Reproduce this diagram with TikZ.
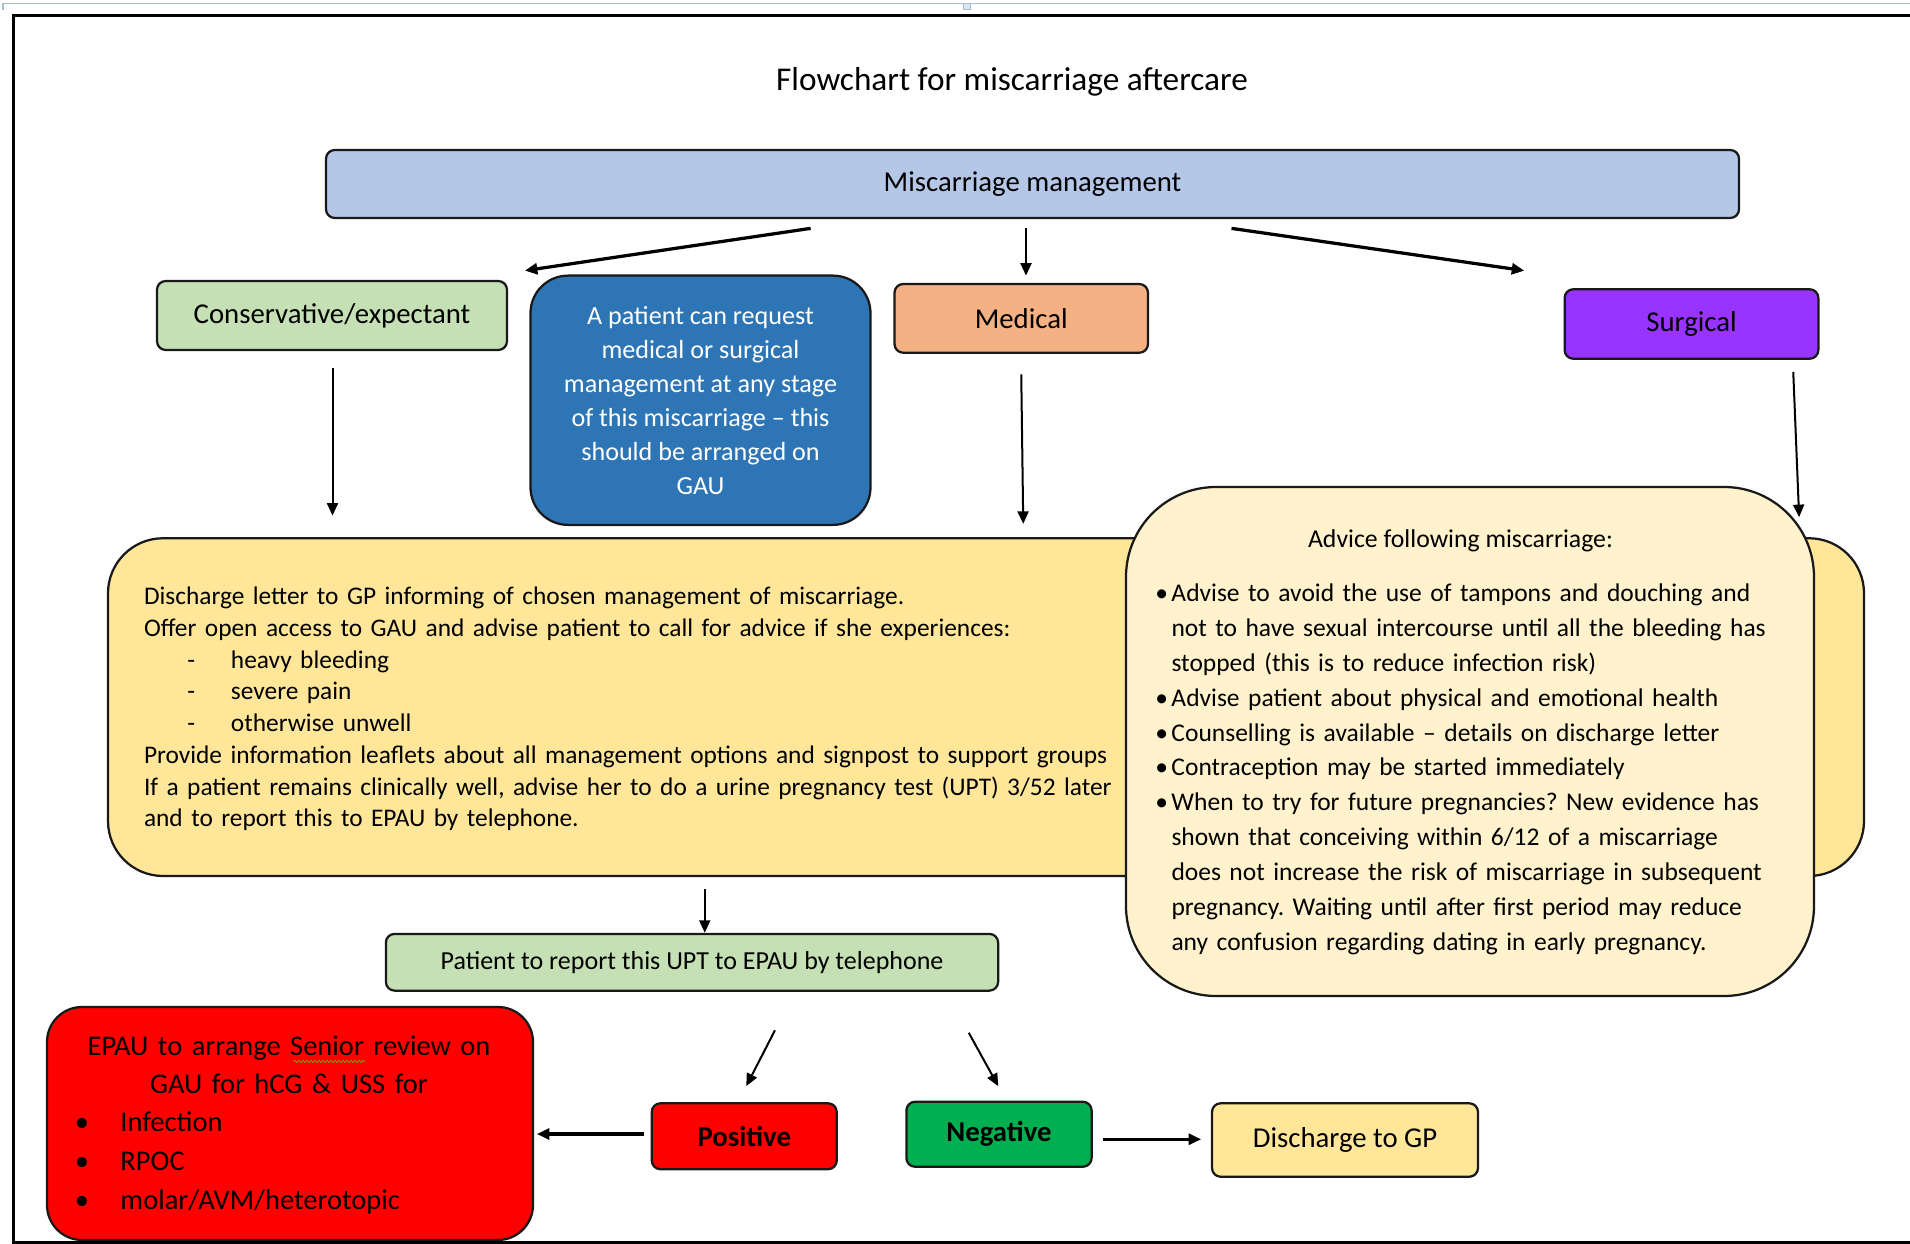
\documentclass[tikz,border=0pt]{standalone}
\usepackage{fontspec}
\setmainfont{Carlito}
\usetikzlibrary{arrows.meta,calc,decorations.pathmorphing}
\frenchspacing

\definecolor{mgmtblue}{HTML}{B4C7E7}
\definecolor{softgreen}{HTML}{C5E0B4}
\definecolor{gaublue}{HTML}{2E75B6}
\definecolor{medorange}{HTML}{F4B183}
\definecolor{surgpurple}{HTML}{9933FF}
\definecolor{letteryellow}{HTML}{FFE699}
\definecolor{advicecream}{HTML}{FFF2CC}
\definecolor{alertred}{HTML}{FF0000}
\definecolor{okgreen}{HTML}{00B050}
\definecolor{rulerblue}{HTML}{A9BDD2}

\newcommand{\advbullet}{\leavevmode\llap{•\hspace{1.4pt}}}
\newcommand{\epaubullet}{\leavevmode\llap{•\hspace{12.6pt}}}
\newcommand{\dashitem}{\hspace*{17.3pt}\makebox[17.5pt][l]{-}}

\begin{document}
\begin{tikzpicture}[x=1pt,y=-1pt,
    box/.style={draw=black!90, line width=0.9pt, rounded corners=3.5pt,
        inner sep=0pt, align=center, font=\fontsize{11.5}{14}\selectfont},
    bodytext/.style={inner sep=0pt, align=left},
    arr/.style={-{Triangle[length=5pt,width=4.4pt]}, line width=0.8pt},
    arrthick/.style={arr, line width=1.3pt}]
\useasboundingbox (0,0) rectangle (764,497.6);

% ruler strip above the page
\draw[rulerblue, line width=0.6pt] (1.2,4.2) -- (1.2,1.4) -- (764,1.4);
\draw[rulerblue, fill=rulerblue!40, line width=0.4pt] (385.2,1.4) rectangle (388.2,3.8);

\node (title) at (404.8,32.8) {\fontsize{13.3}{16}\selectfont Flowchart for miscarriage aftercare};

% top row
\node[box, fill=mgmtblue, minimum width=565.2pt, minimum height=27.2pt] (mm) at (413,73.6) {Miscarriage management};
\node[box, fill=softgreen, minimum width=140pt, minimum height=27.6pt] (cons) at (132.8,126.2) {Conservative/expectant};
\node[box, fill=gaublue, text=white, rounded corners=15pt,
    minimum width=136pt, minimum height=99.7pt,
    font=\fontsize{10.45}{13.6}\selectfont] (gau) at (280.2,160.1)
    {A patient can request\\medical or surgical\\management at any stage\\of this miscarriage – this\\should be arranged on\\GAU};
\node[box, fill=medorange, minimum width=101.4pt, minimum height=27.5pt] (med) at (408.5,127.35) {Medical};
\node[box, fill=surgpurple, minimum width=101.5pt, minimum height=27.8pt] (surg) at (676.6,129.6) {Surgical};

% discharge letter box
\node[box, fill=letteryellow, rounded corners=22pt, minimum width=702.4pt, minimum height=135.1pt] (yl) at (394.4,282.85) {};
\node[bodytext, anchor=base west, text width=440pt, font=\fontsize{10.15}{12.7}\selectfont] (yltext) at (57.4,241.8)
    {Discharge letter to GP informing of chosen management of miscarriage.\\
     Offer open access to GAU and advise patient to call for advice if she experiences:\\
     \dashitem heavy bleeding\\
     \dashitem severe pain\\
     \dashitem otherwise unwell\\
     Provide information leaflets about all management options and signpost to support groups\\
     If a patient remains clinically well, advise her to do a urine pregnancy test (UPT) 3/52 later\\
     and to report this to EPAU by telephone.};

% advice box
\node[box, fill=advicecream, rounded corners=36pt, minimum width=275.2pt, minimum height=203.6pt] (adv) at (588,296.6) {};
\node[anchor=base, inner sep=0pt, font=\fontsize{10.3}{12.7}\selectfont] (advtitle) at (584.2,219.1) {Advice following miscarriage:};
\node[bodytext, anchor=base west, text width=262pt, font=\fontsize{10.2}{13.95}\selectfont] (advlist) at (468.4,240.6)
    {\advbullet Advise to avoid the use of tampons and douching and\\
     not to have sexual intercourse until all the bleeding has\\
     stopped (this is to reduce infection risk)\\
     \advbullet Advise patient about physical and emotional health\\
     \advbullet Counselling is available – details on discharge letter\\
     \advbullet Contraception may be started immediately\\
     \advbullet When to try for future pregnancies? New evidence has\\
     shown that conceiving within 6/12 of a miscarriage\\
     does not increase the risk of miscarriage in subsequent\\
     pregnancy. Waiting until after first period may reduce\\
     any confusion regarding dating in early pregnancy.};

% result row
\node[box, fill=softgreen, minimum width=244.9pt, minimum height=22.7pt, font=\fontsize{10.4}{12}\selectfont] (pat) at (276.8,384.9) {Patient to report this UPT to EPAU by telephone};
\node[box, fill=alertred, rounded corners=14pt, minimum width=194.4pt, minimum height=93.2pt] (epau) at (116,449.4) {};
\node[inner sep=0pt, anchor=base, text width=190pt, align=center, font=\fontsize{11.4}{15.2}\selectfont] (epauhead) at (115.6,422.3)
    {EPAU to arrange Senior review on\\GAU for hCG \& USS for};
\draw[olive, line width=0.4pt, decorate, decoration={snake, amplitude=0.45pt, segment length=1.6pt}] (117.5,424.6) -- (146,424.6);
\node[bodytext, anchor=base west, text width=150pt, font=\fontsize{11.4}{15.6}\selectfont] (epaulist) at (48,452.7)
    {\epaubullet Infection\\
     \epaubullet RPOC\\
     \epaubullet molar/AVM/heterotopic};
\node[box, fill=alertred, minimum width=74pt, minimum height=26.4pt, font=\fontsize{11.5}{14}\selectfont\bfseries] (pos) at (297.7,454.5) {Positive};
\node[box, fill=okgreen, minimum width=74.1pt, minimum height=26pt, font=\fontsize{11.5}{14}\selectfont\bfseries] (neg) at (399.6,453.7) {Negative};
\node[box, fill=letteryellow, minimum width=106.4pt, minimum height=29.4pt] (dgp) at (538,456) {Discharge to GP};

% connectors
\draw[arrthick] ($(mm.south west)+(194.3pt,-3.7pt)$) -- ($(cons.north east)+(6.7pt,3.7pt)$);
\draw[arr] ($(med.north |- mm.south)+(1.9pt,-3.7pt)$) -- ($(med.north)+(1.9pt,2.9pt)$);
\draw[arrthick] ($(mm.south)+(79.6pt,-3.7pt)$) -- ($(surg.north west)+(-15.7pt,7pt)$);
\draw[arr] ($(cons.south)+(0.2pt,-6.9pt)$) -- ($(cons.south |- yl.north)+(0.2pt,8.6pt)$);
\draw[arr] ($(med.south)+(0pt,-8.2pt)$) -- ($(med.south |- yl.north)+(0.8pt,5.3pt)$);
\draw[arr] ($(surg.south)+(40.7pt,-4.8pt)$) -- ($(adv.north east)+(-6.4pt,-12.5pt)$);
\draw[arr] ($(yl.south -| pat.north)+(5.1pt,-4.9pt)$) -- ($(pat.north)+(5.1pt,0pt)$);
\draw[arr] ($(pat.south)+(33.2pt,-15.4pt)$) -- ($(pos.north)+(0.8pt,6.4pt)$);
\draw[arr] ($(pat.south east)+(-12.2pt,-16.4pt)$) -- ($(neg.north)+(-0.3pt,5.8pt)$);
\draw[arrthick] ($(pos.west)+(-2.5pt,0.9pt)$) -- ($(pos.west -| epau.east)+(1.1pt,0.9pt)$);
\draw[arrthick] ($(neg.east)+(4.2pt,-2pt)$) -- ($(neg.east -| dgp.west)+(-3.9pt,-2pt)$);

% page frame
\draw[line width=1.2pt] (764,6.4) -- (5.2,6.4) -- (5.2,496.8) -- (764,496.8);
\end{tikzpicture}
\end{document}
